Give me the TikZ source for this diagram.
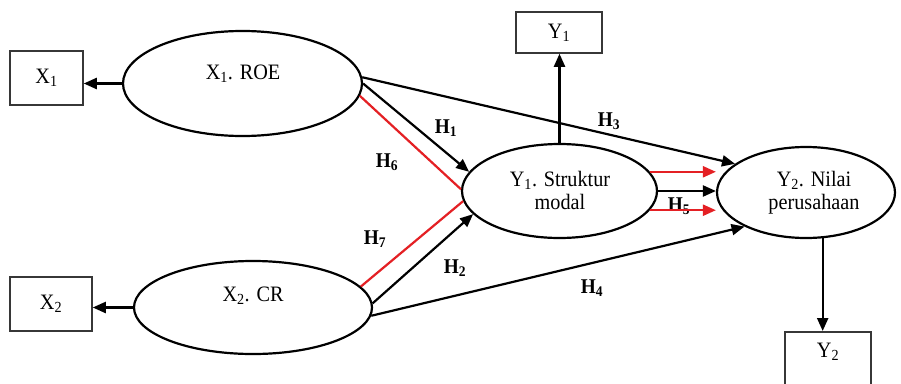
\documentclass[tikz,border=0pt]{standalone}
\usepackage{fontspec}
\setmainfont[FakeStretch=0.92]{Liberation Serif}
\usetikzlibrary{shapes.geometric,arrows.meta,calc}
\definecolor{myred}{RGB}{228,32,36}
\definecolor{boxgray}{RGB}{55,55,55}
\begin{document}
\begin{tikzpicture}[x=1pt,y=-1pt,
  latent/.style={ellipse,draw=black,line width=2.2pt,inner sep=0pt},
  ind/.style={rectangle,draw=boxgray,line width=1.5pt,inner sep=0pt},
  txt/.style={font=\fontsize{22}{23}\selectfont,inner sep=0pt},
  hlab/.style={font=\fontsize{21}{22}\selectfont\bfseries,inner sep=0pt},
  arr/.style={line width=2.2pt,-{Triangle[length=13pt,width=11pt]}},
  redln/.style={draw=myred,line width=2.2pt},
  redarr/.style={color=myred,line width=2.2pt,-{Triangle[length=13pt,width=11pt]}}
]
\clip (0,0) rectangle (901,383);
\fill[white] (0,0) rectangle (901,383);

% latent variables
\node[latent,minimum width=239pt,minimum height=105pt] (x1) at (242.5,83.5) {};
\node[txt] (x1t) at (243,74) {X\textsubscript{1}. ROE};
\node[latent,minimum width=238pt,minimum height=93pt] (x2) at (253,307.5) {};
\node[txt] (x2t) at (253,296) {X\textsubscript{2}. CR};
\node[latent,minimum width=195pt,minimum height=94pt] (y1) at (559.5,191) {};
\node[txt,align=center] (y1t) at (560,190) {Y\textsubscript{1}. Struktur\\modal};
\node[latent,minimum width=178pt,minimum height=91pt] (y2) at (806,192.5) {};
\node[txt,align=center] (y2t) at (814,193) {Y\textsubscript{2}. Nilai\\perusahaan};

% indicator boxes
\node[ind,txt,minimum width=73pt,minimum height=54pt] (x1b) at (46.5,78) {X\textsubscript{1}};
\node[ind,txt,minimum width=82pt,minimum height=54pt] (x2b) at (51,304) {X\textsubscript{2}};
\node[ind,txt,minimum width=86pt,minimum height=41pt] (y1b) at (559,32.5) {Y\textsubscript{1}};
\node[ind,minimum width=86pt,minimum height=70pt,anchor=north] (y2b) at (828,331) {};
\node[txt] (y2bt) at (828,352) {Y\textsubscript{2}};

% hypothesis labels
\node[hlab] (h1) at (446,128) {H\textsubscript{1}};
\node[hlab] (h2) at (455,268) {H\textsubscript{2}};
\node[hlab] (h3) at (609,121) {H\textsubscript{3}};
\node[hlab] (h4) at (592,288) {H\textsubscript{4}};
\node[hlab] (h5) at (679,206) {H\textsubscript{5}};
\node[hlab] (h6) at (387,162) {H\textsubscript{6}};
\node[hlab] (h7) at (375,239) {H\textsubscript{7}};

% indicator arrows
\draw[arr] (x1.west) -- (x1.west -| x1b.east);
\draw[arr] (x2.west) -- (x2.west -| x2b.east);
\draw[arr] (y1.north) -- (y1.north |- y1b.south);
\draw[arr] (y2.-70) -- (y2.-70 |- y2b.north);

% structural paths
\draw[arr] (x1.3) -- (y2.158);
\draw[arr] (x1.east) -- (y1.168);
\draw[redln] (x1.-6) -- (y1.179);
\draw[redln] (x2.11) -- (y1.186);
\draw[arr] (x2.2) -- (y1.195);
\draw[arr] (x2.-4) -- (y2.209);
\draw[redarr] (y1.12) -- (y1.12 -| y2.west);
\draw[arr] (y1.east) -- (y1.east -| y2.west);
\draw[redarr] (y1.-12) -- (y1.-12 -| y2.west);
\end{tikzpicture}
\end{document}
